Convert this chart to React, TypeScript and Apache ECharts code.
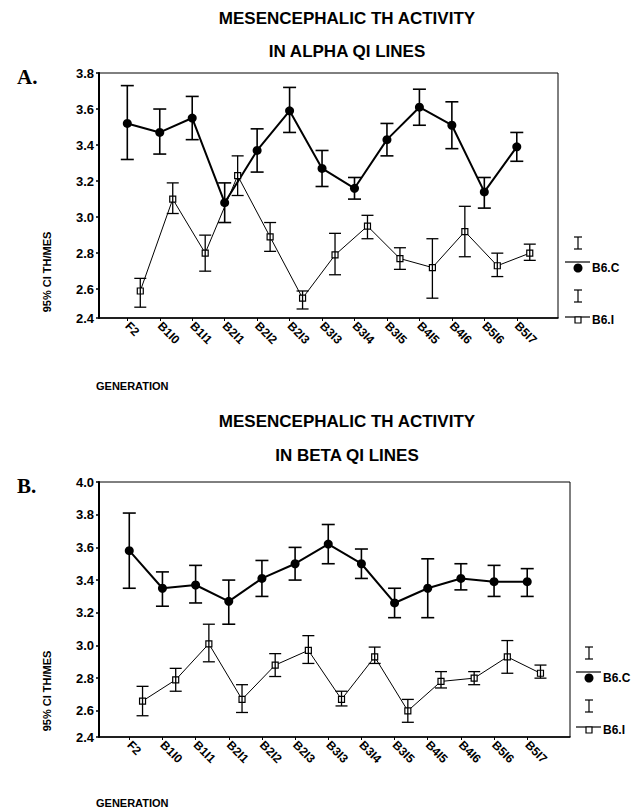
import React, { useEffect, useRef } from "react";
import * as echarts from "echarts";

const CATEGORIES = ["F2", "B1I0", "B1I1", "B2I1", "B2I2", "B2I3", "B3I3", "B3I4", "B3I5", "B4I5", "B4I6", "B5I6", "B5I7"];

// Panel A (alpha QI lines)
const A_C_MEAN = [3.52, 3.47, 3.55, 3.08, 3.37, 3.59, 3.27, 3.16, 3.43, 3.61, 3.51, 3.14, 3.39];
const A_C_LOW = [3.32, 3.35, 3.43, 2.97, 3.25, 3.47, 3.17, 3.10, 3.34, 3.51, 3.38, 3.05, 3.31];
const A_C_HIGH = [3.73, 3.60, 3.67, 3.19, 3.49, 3.72, 3.37, 3.22, 3.52, 3.71, 3.64, 3.22, 3.47];
const A_I_MEAN = [2.59, 3.10, 2.80, 3.23, 2.89, 2.55, 2.79, 2.95, 2.77, 2.72, 2.92, 2.73, 2.80];
const A_I_LOW = [2.50, 3.02, 2.70, 3.12, 2.81, 2.49, 2.68, 2.88, 2.71, 2.55, 2.78, 2.67, 2.76];
const A_I_HIGH = [2.66, 3.19, 2.90, 3.34, 2.97, 2.59, 2.91, 3.01, 2.83, 2.88, 3.06, 2.80, 2.85];

// Panel B (beta QI lines)
const B_C_MEAN = [3.58, 3.35, 3.37, 3.27, 3.41, 3.50, 3.62, 3.50, 3.26, 3.35, 3.41, 3.39, 3.39];
const B_C_LOW = [3.35, 3.24, 3.26, 3.13, 3.30, 3.40, 3.50, 3.41, 3.17, 3.17, 3.34, 3.30, 3.30];
const B_C_HIGH = [3.81, 3.45, 3.49, 3.40, 3.52, 3.60, 3.74, 3.59, 3.35, 3.53, 3.50, 3.49, 3.47];
const B_I_MEAN = [2.66, 2.79, 3.01, 2.67, 2.88, 2.97, 2.67, 2.93, 2.60, 2.78, 2.80, 2.93, 2.83];
const B_I_LOW = [2.57, 2.72, 2.90, 2.59, 2.81, 2.89, 2.63, 2.89, 2.53, 2.74, 2.76, 2.83, 2.80];
const B_I_HIGH = [2.75, 2.86, 3.13, 2.76, 2.95, 3.06, 2.72, 2.99, 2.67, 2.84, 2.84, 3.03, 2.88];

const Y_TICKS_A = [2.44, 2.6, 2.8, 3.0, 3.2, 3.4, 3.6, 3.8];
const Y_TICKS_B = [2.44, 2.6, 2.8, 3.0, 3.2, 3.4, 3.6, 3.8, 4.0];

const FONT = "'Liberation Sans', Arial, Helvetica, sans-serif";
const SERIF = "'Liberation Serif', 'Times New Roman', serif";
const DODGE = 0.4;
const IDX = CATEGORIES.map((_, i) => i);

function errRender(lw: number, cap: number) {
  return (params: any, api: any) => {
    const x = api.value(0);
    const lo = api.coord([x, api.value(1)]);
    const hi = api.coord([x, api.value(2)]);
    const style = { stroke: "#000", lineWidth: lw };
    return {
      type: "group",
      children: [
        { type: "line", shape: { x1: lo[0], y1: lo[1], x2: hi[0], y2: hi[1] }, style },
        { type: "line", shape: { x1: lo[0] - cap, y1: lo[1], x2: lo[0] + cap, y2: lo[1] }, style },
        { type: "line", shape: { x1: hi[0] - cap, y1: hi[1], x2: hi[0] + cap, y2: hi[1] }, style },
      ],
    };
  };
}

function panelSeries(gi: number, cMean: number[], cLow: number[], cHigh: number[], iMean: number[], iLow: number[], iHigh: number[]) {
  return [
    {
      type: "custom",
      xAxisIndex: gi,
      yAxisIndex: gi,
      renderItem: errRender(1.6, 6.5),
      encode: { x: 0, y: [1, 2] },
      data: cMean.map((_, i) => [i, cLow[i], cHigh[i]]),
      z: 2,
      silent: true,
    },
    {
      type: "line",
      xAxisIndex: gi,
      yAxisIndex: gi,
      data: cMean.map((v, i) => [i, v]),
      symbol: "circle",
      symbolSize: 9,
      itemStyle: { color: "#000" },
      lineStyle: { color: "#000", width: 2 },
      z: 3,
    },
    {
      type: "line",
      xAxisIndex: gi,
      yAxisIndex: gi,
      data: iMean.map((v, i) => [i + DODGE, v]),
      symbol: "rect",
      symbolSize: 6,
      itemStyle: { color: "#fff", borderColor: "#000", borderWidth: 1.2 },
      lineStyle: { color: "#000", width: 1 },
      z: 4,
    },
    {
      type: "custom",
      xAxisIndex: gi,
      yAxisIndex: gi,
      renderItem: errRender(1.3, 6),
      encode: { x: 0, y: [1, 2] },
      data: iMean.map((_, i) => [i + DODGE, iLow[i], iHigh[i]]),
      z: 5,
      silent: true,
    },
  ];
}

function xAxis(gi: number, min: number, max: number) {
  return {
    type: "value",
    gridIndex: gi,
    min,
    max,
    splitLine: { show: false },
    axisLine: { show: true, onZero: false, lineStyle: { color: "#000", width: 1.6 } },
    axisTick: { show: true, length: 3, lineStyle: { color: "#000" }, customValues: IDX },
    axisLabel: {
      customValues: IDX,
      rotate: -45,
      margin: 6,
      color: "#000",
      fontFamily: FONT,
      fontSize: 12,
      fontWeight: "bold",
      formatter: (v: number) => CATEGORIES[Math.round(v)] ?? "",
    },
  };
}

function yAxis(gi: number, min: number, max: number, ticks: number[]) {
  return {
    type: "value",
    gridIndex: gi,
    min,
    max,
    splitLine: { show: false },
    axisLine: { show: true, onZero: false, lineStyle: { color: "#000", width: 2 } },
    axisTick: { show: true, length: 3, lineStyle: { color: "#000", width: 1.5 }, customValues: ticks },
    axisLabel: {
      customValues: ticks,
      margin: 5,
      color: "#000",
      fontFamily: FONT,
      fontSize: 13,
      fontWeight: "bold",
      formatter: (v: number) => (v < 2.5 ? "2.4" : v.toFixed(1)),
    },
  };
}

function legendGroup(x0: number, yb: number) {
  const ls = { stroke: "#000", lineWidth: 1.2 };
  const ibar = (cy: number) => [
    { type: "line", shape: { x1: x0, y1: cy - 6, x2: x0, y2: cy + 6 }, style: ls },
    { type: "line", shape: { x1: x0 - 4, y1: cy - 6, x2: x0 + 4, y2: cy - 6 }, style: ls },
    { type: "line", shape: { x1: x0 - 4, y1: cy + 6, x2: x0 + 4, y2: cy + 6 }, style: ls },
  ];
  const txt = { fill: "#000", font: `bold 12px ${FONT}`, textVerticalAlign: "middle" };
  return [
    ...ibar(yb - 77),
    { type: "line", shape: { x1: x0 - 13, y1: yb - 58, x2: x0 + 12, y2: yb - 58 }, style: ls },
    { type: "circle", shape: { cx: x0, cy: yb - 52, r: 4.5 }, style: { fill: "#000" } },
    { type: "text", x: x0 + 14, y: yb - 52, style: { ...txt, text: "B6.C" } },
    ...ibar(yb - 24),
    { type: "line", shape: { x1: x0 - 13, y1: yb - 3, x2: x0 + 12, y2: yb - 3 }, style: ls },
    { type: "rect", shape: { x: x0 - 3, y: yb - 3, width: 6, height: 6 }, style: { fill: "#fff", stroke: "#000", lineWidth: 1.2 } },
    { type: "text", x: x0 + 14, y: yb, style: { ...txt, text: "B6.I" } },
  ];
}

function textEl(text: string, x: number, y: number, font: string, align = "center", rotation = 0) {
  return {
    type: "text",
    x,
    y,
    rotation,
    style: { text, fill: "#000", font, textAlign: align, textVerticalAlign: "middle" },
  };
}

export default function App() {
  const ref = useRef<HTMLDivElement>(null);
  useEffect(() => {
    document.body.style.margin = "0";
    const chart = echarts.init(ref.current!, null, { renderer: "svg" });
    const titleFont = `bold 17px ${FONT}`;
    const smallFont = `bold 11px ${FONT}`;
    chart.setOption({
      animation: false,
      backgroundColor: "#fff",
      grid: [
        { left: 99, top: 73, width: 459, height: 245, show: true, borderColor: "#000", borderWidth: 1, backgroundColor: "transparent" },
        { left: 99, top: 482, width: 471, height: 255, show: true, borderColor: "#000", borderWidth: 1, backgroundColor: "transparent" },
      ],
      xAxis: [xAxis(0, -0.872, 13.27), xAxis(1, -0.913, 13.29)],
      yAxis: [yAxis(0, 2.44, 3.8, Y_TICKS_A), yAxis(1, 2.44, 4.0, Y_TICKS_B)],
      series: [
        ...panelSeries(0, A_C_MEAN, A_C_LOW, A_C_HIGH, A_I_MEAN, A_I_LOW, A_I_HIGH),
        ...panelSeries(1, B_C_MEAN, B_C_LOW, B_C_HIGH, B_I_MEAN, B_I_LOW, B_I_HIGH),
      ],
      graphic: [
        textEl("MESENCEPHALIC TH ACTIVITY", 347, 18, titleFont),
        textEl("IN ALPHA QI LINES", 347, 51, titleFont),
        textEl("A.", 17, 77, `bold 21px ${SERIF}`, "left"),
        textEl("95% CI TH/MES", 47, 272, smallFont, "center", Math.PI / 2),
        textEl("GENERATION", 96, 386, smallFont, "left"),
        ...legendGroup(578, 320),
        textEl("MESENCEPHALIC TH ACTIVITY", 347, 421, titleFont),
        textEl("IN BETA QI LINES", 347, 455, titleFont),
        textEl("B.", 17, 486, `bold 21px ${SERIF}`, "left"),
        textEl("95% CI TH/MES", 47, 691, smallFont, "center", Math.PI / 2),
        textEl("GENERATION", 96, 803, smallFont, "left"),
        ...legendGroup(589, 730),
      ],
    });
    return () => chart.dispose();
  }, []);
  return <div ref={ref} style={{ width: 632, height: 812 }} />;
}
